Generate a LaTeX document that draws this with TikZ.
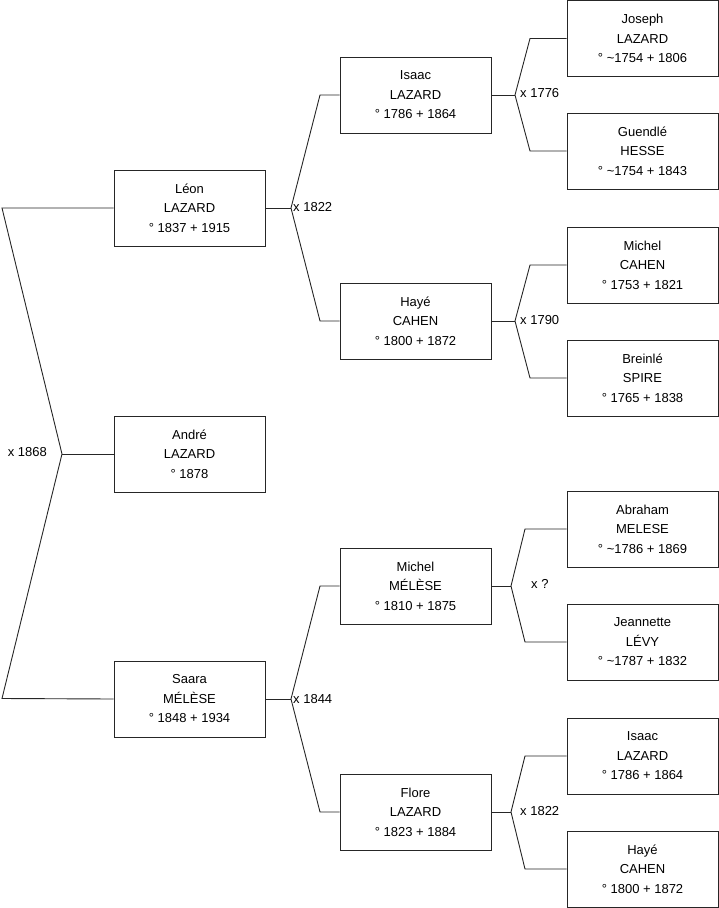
\documentclass[tikz,border=0pt]{standalone}
\usepackage{fontspec}
\setmainfont{Liberation Sans}
\begin{document}
\begin{tikzpicture}[x=1pt,y=-1pt,
  person/.style={draw=black!85,line width=0.9pt,minimum width=151pt,minimum height=76pt,inner sep=0pt,align=center,font=\fontsize{13}{19.5}\selectfont},
  link/.style={draw=black!85,line width=0.9pt},
  mlabel/.style={inner sep=0pt,font=\fontsize{13}{15}\selectfont}]
\useasboundingbox (0,0) rectangle (719,908);
% column 1
\node[person] (leon)  at (189.5,208) {Léon\\LAZARD\\° 1837 + 1915};
\node[person] (andre) at (189.5,454) {André\\LAZARD\\° 1878};
\node[person] (saara) at (189.5,699) {Saara\\MÉLÈSE\\° 1848 + 1934};
% column 2
\node[person] (isaac)  at (415.5,95)  {Isaac\\LAZARD\\° 1786 + 1864};
\node[person] (haye)   at (415.5,321) {Hayé\\CAHEN\\° 1800 + 1872};
\node[person] (michel) at (415.5,586) {Michel\\MÉLÈSE\\° 1810 + 1875};
\node[person] (flore)  at (415.5,812) {Flore\\LAZARD\\° 1823 + 1884};
% column 3
\node[person] (joseph)    at (642.5,38.5) {Joseph\\LAZARD\\° \textasciitilde1754 + 1806};
\node[person] (guendle)   at (642.5,151) {Guendlé\\HESSE\\° \textasciitilde1754 + 1843};
\node[person] (michelc)   at (642.5,265) {Michel\\CAHEN\\° 1753 + 1821};
\node[person] (breinle)   at (642.5,378) {Breinlé\\SPIRE\\° 1765 + 1838};
\node[person] (abraham)   at (642.5,529) {Abraham\\MELESE\\° \textasciitilde1786 + 1869};
\node[person] (jeannette) at (642.5,642) {Jeannette\\LÉVY\\° \textasciitilde1787 + 1832};
\node[person] (isaacb)    at (642.5,756) {Isaac\\LAZARD\\° 1786 + 1864};
\node[person] (hayeb)     at (642.5,869) {Hayé\\CAHEN\\° 1800 + 1872};
% junction coordinates
\coordinate (j1) at (62,454);
\coordinate (j1a) at (2,208);
\coordinate (j1b) at (2,698.5);
\coordinate (j2) at (291,208);
\coordinate (j2a) at (320,95);
\coordinate (j2b) at (320,321);
\coordinate (j3) at (291,699);
\coordinate (j3a) at (320,586);
\coordinate (j3b) at (320,812);
\coordinate (j4) at (515,95);
\coordinate (j4a) at (530,38.5);
\coordinate (j4b) at (530,151);
\coordinate (j5) at (515,321);
\coordinate (j5a) at (530,265);
\coordinate (j5b) at (530,378);
\coordinate (j6) at (511,586);
\coordinate (j6a) at (525,529);
\coordinate (j6b) at (525,642);
\coordinate (j7) at (511,812);
\coordinate (j7a) at (525,756);
\coordinate (j7b) at (525,869);
% connectors
\draw[link] (leon.west) -- (j1a) -- (j1) -- (j1b) -- (saara.west);
\draw[link] (j1) -- (andre.west);
\draw[link] (leon.east) -- (j2);
\draw[link] (isaac.west) -- (j2a) -- (j2) -- (j2b) -- (haye.west);
\draw[link] (saara.east) -- (j3);
\draw[link] (michel.west) -- (j3a) -- (j3) -- (j3b) -- (flore.west);
\draw[link] (isaac.east) -- (j4);
\draw[link] (joseph.west) -- (j4a) -- (j4) -- (j4b) -- (guendle.west);
\draw[link] (haye.east) -- (j5);
\draw[link] (michelc.west) -- (j5a) -- (j5) -- (j5b) -- (breinle.west);
\draw[link] (michel.east) -- (j6);
\draw[link] (abraham.west) -- (j6a) -- (j6) -- (j6b) -- (jeannette.west);
\draw[link] (flore.east) -- (j7);
\draw[link] (isaacb.west) -- (j7a) -- (j7) -- (j7b) -- (hayeb.west);
% marriage labels
\node[mlabel,anchor=east] (m1) at (47,452) {x 1868};
\node[mlabel,anchor=west] (m2) at (293,207) {x 1822};
\node[mlabel,anchor=west] (m3) at (293,699) {x 1844};
\node[mlabel,anchor=west] (m4) at (520,93) {x 1776};
\node[mlabel,anchor=west] (m5) at (520,320) {x 1790};
\node[mlabel,anchor=west] (m6) at (531,584) {x ?};
\node[mlabel,anchor=west] (m7) at (520,811) {x 1822};
\end{tikzpicture}
\end{document}
